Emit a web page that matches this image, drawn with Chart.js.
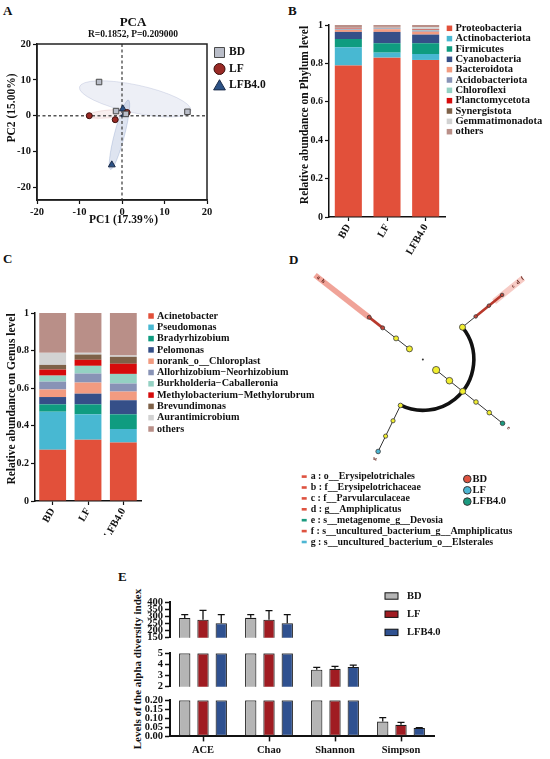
<!DOCTYPE html>
<html>
<head>
<meta charset="utf-8">
<title>Microbiome panels</title>
<script src="https://cdn.jsdelivr.net/npm/chart.js@4.4.1/dist/chart.umd.min.js"></script>
<style>
  html, body { margin: 0; padding: 0; background: #fff; }
  body { position: relative; width: 550px; height: 759px; overflow: hidden; font-family: 'Liberation Serif', serif; color: #111; }
  canvas { position: absolute; }
  .tag { position: absolute; font-weight: bold; font-size: 13px; line-height: 13px; }
  #eTitle { position: absolute; left: 37px; top: 662px; width: 200px; text-align: center; font-weight: bold; font-size: 11px; line-height: 14px; transform: rotate(-90deg); white-space: nowrap; }
</style>
</head>
<body>
<div class="tag" style="left:3px;top:4px">A</div>
<div class="tag" style="left:288px;top:4px">B</div>
<div class="tag" style="left:3px;top:252px">C</div>
<div class="tag" style="left:289px;top:253px">D</div>
<div class="tag" style="left:118px;top:570px">E</div>
<div id="eTitle">Levels of the alpha diversity index</div>

<canvas id="pca" width="270" height="235" style="left:0;top:0"></canvas>
<canvas id="phylum" width="280" height="260" style="left:270px;top:0"></canvas>
<canvas id="genus" width="330" height="300" style="left:0;top:235px"></canvas>
<canvas id="clado" width="280" height="320" style="left:270px;top:235px"></canvas>
<canvas id="alphaTop" width="330" height="60" style="left:120px;top:586px"></canvas>
<canvas id="alphaMid" width="330" height="50" style="left:120px;top:645px"></canvas>
<canvas id="alphaLow" width="330" height="67" style="left:120px;top:692px"></canvas>

<script>
// ---------------- data ----------------
const groups = ['BD', 'LF', 'LFB4.0'];

// A: PCA scores [PC1, PC2]
const pcaBD = [[-5.4, 9.4], [-1.4, 1.3], [15.4, 1.1], [0.9, 0.5]];
const pcaLF = [[-7.7, 0.0], [-1.6, -1.1], [1.2, 0.9]];
const pcaLFB = [[0.2, 1.9], [-2.4, -13.7], [0.6, 0.4]];
const pcaTicks = [-20, -10, 0, 10, 20];
// group ellipses: centre PC1, centre PC2, half axis PC1, half axis PC2, tilt (deg)
const pcaEllipses = [[3.1, 4.7, 13.4, 3.9, 12], [-3.1, 0.5, 5.2, 1.1, -5], [-0.6, -5.3, 1.2, 10, 14.5]];

// B: phylum relative abundance
const phylumNames = ['Proteobacteria', 'Actinobacteriota', 'Firmicutes', 'Cyanobacteria', 'Bacteroidota',
  'Acidobacteriota', 'Chloroflexi', 'Planctomycetota', 'Synergistota', 'Gemmatimonadota', 'others'];
const phylumBD = [0.789, 0.095, 0.043, 0.037, 0.010, 0.003, 0.002, 0.002, 0.001, 0.003, 0.015];
const phylumLF = [0.830, 0.026, 0.049, 0.059, 0.014, 0.004, 0.002, 0.001, 0.001, 0.004, 0.010];
const phylumLFB = [0.818, 0.031, 0.056, 0.045, 0.015, 0.006, 0.003, 0.002, 0.002, 0.010, 0.012];

// C: genus relative abundance
const genusNames = ['Acinetobacter', 'Pseudomonas', 'Bradyrhizobium', 'Pelomonas', 'norank_o__Chloroplast',
  'Allorhizobium\u2212Neorhizobium', 'Burkholderia\u2212Caballeronia', 'Methylobacterium\u2212Methylorubrum',
  'Brevundimonas', 'Aurantimicrobium', 'others'];
const genusBD = [0.272, 0.203, 0.039, 0.039, 0.040, 0.042, 0.032, 0.032, 0.025, 0.064, 0.212];
const genusLF = [0.326, 0.135, 0.053, 0.057, 0.059, 0.048, 0.041, 0.032, 0.028, 0.009, 0.212];
const genusLFB = [0.311, 0.072, 0.078, 0.075, 0.046, 0.043, 0.051, 0.054, 0.037, 0.007, 0.226];
const stackTicks = [0, 0.2, 0.4, 0.6, 0.8, 1];

// D: LEfSe cladogram, branches by direction (deg) and taxonomic level
const cladoAngles = [142, 39, -38.6, -116];
const cladoLevels = [[1, 2, 3, 4], [3, 4, 5, 6], [1, 2, 3, 4, 5, 6], [3, 4, 5, 6]];
const cladoClass = [['none', 'none', 'BD', 'BD'], ['none', 'BD', 'BD', 'BD'],
  ['none', 'none', 'none', 'none', 'none', 'LFB4.0'], ['none', 'none', 'none', 'LF']];
const cladoAbund = [[9, 6.2, 4, 4], [9, 3.2, 3.2, 3.2], [13, 11, 9, 5.3, 5.3, 5.3], [5.3, 4.4, 4.4, 5.3]];
const cladoLeaves = [['b', 'a'], ['c', 'd', 'f'], ['e'], ['g']];
const cladoArcLevel = 3;
const cladoArcSpan = [39, -116];
const cladoBiomarkers = ['a : o__Erysipelotrichales', 'b : f__Erysipelotrichaceae', 'c : f__Parvularculaceae',
  'd : g__Amphiplicatus', 'e : s__metagenome_g__Devosia', 'f : s__uncultured_bacterium_g__Amphiplicatus',
  'g : s__uncultured_bacterium_o__Elsterales'];
const cladoBiomarkerGroup = ['BD', 'BD', 'BD', 'BD', 'LFB4.0', 'BD', 'LF'];

// E: alpha diversity, mean and sd
const alphaIndex = ['ACE', 'Chao', 'Shannon', 'Simpson'];
const alphaBD = [288, 289, 3.53, 0.082];
const alphaLF = [276, 276, 3.61, 0.064];
const alphaLFB = [252, 252, 3.77, 0.047];
const alphaBDsd = [24, 23, 0.21, 0.022];
const alphaLFsd = [65, 64, 0.21, 0.014];
const alphaLFBsd = [60, 60, 0.16, 0.002];
const alphaTicksTop = [150, 200, 250, 300, 350, 400];
const alphaTicksMid = [2, 3, 4, 5];
const alphaTicksLow = [0, 0.05, 0.10, 0.15, 0.20];

// ---------------- styles ----------------
const FONT = "'Liberation Serif', 'Times New Roman', serif";
const pcaFill = ['#b9bdc8', '#992a25', '#2c5286'];
const pcaEdge = ['#4a4a4a', '#3b0f0c', '#1b2b48'];
const ellipseFill = ['rgba(190,198,222,0.28)', 'rgba(200,120,120,0.12)', 'rgba(90,120,180,0.20)'];
const ellipseLine = ['rgba(170,180,210,0.45)', 'rgba(200,130,130,0.25)', 'rgba(90,120,180,0.30)'];
const phylumColors = ['#e2503a', '#48b8d2', '#0f9c80', '#354f88', '#f29b80', '#8893b6', '#94d1c3',
  '#d60b0b', '#7e6148', '#d2d2d2', '#b98f88'];
const genusColors = ['#e2503a', '#48b8d2', '#0f9c80', '#354f88', '#f29b80', '#8893b6', '#94d1c3',
  '#d60b0b', '#7e6148', '#d2d2d2', '#b98f88'];
const cladoFill = { none: '#f1ee2f', BD: '#c4473a', LF: '#4db6d3', 'LFB4.0': '#1b9a7f' };
const markerColor = { BD: '#de5340', LF: '#4db6d3', 'LFB4.0': '#1b9a7f' };
const alphaColors = ['#b5b5b5', '#a01c22', '#2f5190'];

Chart.defaults.font.family = FONT;
Chart.defaults.font.weight = 'bold';
Chart.defaults.font.size = 10;
Chart.defaults.color = '#111';
Chart.defaults.animation = false;
Chart.defaults.plugins.legend.display = false;
Chart.defaults.plugins.tooltip.enabled = false;

const fixTicks = vals => axis => { axis.ticks = vals.map(v => ({ value: v })); };

function axisOpts(extra) {
  const o = {
    border: { display: true, color: '#111', width: 1.5 },
    grid: { display: true, drawOnChartArea: false, drawTicks: true, tickLength: 4, tickColor: '#111', tickWidth: 1.2, offset: false },
    ticks: { color: '#111', padding: 2, autoSkip: false, font: { size: 10, weight: 'bold', family: FONT } }
  };
  for (const k in extra) {
    if (o[k] && typeof extra[k] === 'object' && !Array.isArray(extra[k])) Object.assign(o[k], extra[k]);
    else o[k] = extra[k];
  }
  return o;
}

function label(ctx, str, x, y, size, opt) {
  opt = opt || {};
  ctx.save();
  ctx.font = 'bold ' + size + 'px ' + FONT;
  ctx.fillStyle = opt.color || '#111';
  ctx.textAlign = opt.align || 'left';
  ctx.textBaseline = 'middle';
  ctx.translate(x, y);
  if (opt.rotate) ctx.rotate(opt.rotate);
  ctx.fillText(str, 0, 0);
  ctx.restore();
}

function marker(ctx, shape, x, y, r, fill, edge) {
  ctx.save();
  ctx.fillStyle = fill; ctx.strokeStyle = edge; ctx.lineWidth = 1;
  ctx.beginPath();
  if (shape === 'rect') ctx.rect(x - r, y - r, 2 * r, 2 * r);
  else if (shape === 'circle') ctx.arc(x, y, r, 0, Math.PI * 2);
  else { ctx.moveTo(x, y - r); ctx.lineTo(x + r * 0.866, y + r * 0.5); ctx.lineTo(x - r * 0.866, y + r * 0.5); ctx.closePath(); }
  ctx.fill(); ctx.stroke();
  ctx.restore();
}

// ---------------- A: PCA ----------------
const pcaDecor = {
  id: 'pcaDecor',
  beforeDatasetsDraw(chart) {
    const { ctx, chartArea: a, scales: { x, y } } = chart;
    const ux = x.getPixelForValue(1) - x.getPixelForValue(0);
    const uy = y.getPixelForValue(0) - y.getPixelForValue(1);
    ctx.save();
    pcaEllipses.forEach((e, k) => {
      ctx.beginPath();
      ctx.ellipse(x.getPixelForValue(e[0]), y.getPixelForValue(e[1]), e[2] * ux, e[3] * uy, e[4] * Math.PI / 180, 0, Math.PI * 2);
      ctx.fillStyle = ellipseFill[k]; ctx.fill();
      ctx.strokeStyle = ellipseLine[k]; ctx.lineWidth = 0.8; ctx.stroke();
    });
    const x0 = x.getPixelForValue(0), y0 = y.getPixelForValue(0);
    ctx.setLineDash([3, 2.5]);
    ctx.strokeStyle = '#555'; ctx.lineWidth = 1.4;
    ctx.beginPath();
    ctx.moveTo(x0, a.top); ctx.lineTo(x0, a.bottom);
    ctx.moveTo(a.left, y0); ctx.lineTo(a.right, y0);
    ctx.stroke();
    ctx.restore();
  },
  afterDraw(chart) {
    const { ctx, chartArea: a } = chart;
    ctx.save();
    ctx.strokeStyle = '#222'; ctx.lineWidth = 1.5;
    ctx.strokeRect(a.left, a.top, a.right - a.left, a.bottom - a.top);
    ctx.restore();
    label(ctx, 'PCA', 133, 23, 13, { align: 'center' });
    label(ctx, 'R=0.1852, P=0.209000', 133, 34.5, 9.5, { align: 'center' });
    label(ctx, 'PC1 (17.39%)', 123.5, 220, 11.5, { align: 'center' });
    label(ctx, 'PC2 (15.00%)', 12, 108, 11.5, { align: 'center', rotate: -Math.PI / 2 });
    const shapes = ['rect', 'circle', 'triangle'];
    const rs = [5, 5.5, 6.8];
    groups.forEach((g, k) => {
      const yy = 52.5 + k * 16.5;
      marker(ctx, shapes[k], 219.5, yy + (k === 2 ? 1 : 0), rs[k], pcaFill[k], pcaEdge[k]);
      label(ctx, g, 229, yy, 11.5);
    });
  }
};

const pcaSeries = [pcaBD, pcaLF, pcaLFB];
const pcaStyle = ['rect', 'circle', 'triangle'];
const pcaRadius = [3.9, 3, 4];
new Chart(document.getElementById('pca'), {
  type: 'scatter',
  data: {
    datasets: pcaSeries.map((s, k) => ({
      label: groups[k],
      data: s.map(p => ({ x: p[0], y: p[1] })),
      pointStyle: pcaStyle[k], pointRadius: pcaRadius[k],
      pointBackgroundColor: pcaFill[k], pointBorderColor: pcaEdge[k], pointBorderWidth: 1
    }))
  },
  options: {
    responsive: false,
    layout: { padding: { left: 0, top: 44, right: 63, bottom: 0 } },
    scales: {
      x: axisOpts({ type: 'linear', min: -20, max: 20, afterBuildTicks: fixTicks(pcaTicks),
        ticks: { font: { size: 10.5, weight: 'bold', family: FONT } },
        afterFit: s => { s.height = 35; } }),
      y: axisOpts({ type: 'linear', min: -23.5, max: 20, afterBuildTicks: fixTicks(pcaTicks),
        ticks: { font: { size: 10.5, weight: 'bold', family: FONT } },
        afterFit: s => { s.width = 37; } })
    }
  },
  plugins: [pcaDecor]
});

// ---------------- B / C: stacked composition ----------------
function stackedChart(id, names, colors, series, cfg) {
  const legend = {
    id: id + 'Legend',
    afterDraw(chart) {
      const ctx = chart.ctx;
      names.forEach((n, i) => {
        const yy = cfg.legY + i * cfg.legStep;
        ctx.fillStyle = colors[i];
        ctx.fillRect(cfg.legX, yy - 2.75, 5.5, 5.5);
        label(ctx, n, cfg.legX + 8.7, yy, cfg.legFont);
      });
      label(ctx, cfg.yTitle, cfg.yTitleX, cfg.yTitleY, 11.5, { align: 'center', rotate: -Math.PI / 2 });
    }
  };
  return new Chart(document.getElementById(id), {
    type: 'bar',
    data: {
      labels: groups,
      datasets: names.map((n, i) => ({
        label: n, data: series.map(s => s[i]), backgroundColor: colors[i], borderWidth: 0,
        barPercentage: cfg.barPct, categoryPercentage: 1
      }))
    },
    options: {
      responsive: false,
      layout: { padding: cfg.padding },
      scales: {
        x: axisOpts({ stacked: true, ticks: { minRotation: 60, maxRotation: 60, padding: 1,
          font: { size: 10.5, weight: 'bold', family: FONT } }, afterFit: s => { s.height = cfg.xh; } }),
        y: axisOpts({ stacked: true, min: 0, max: 1, afterBuildTicks: fixTicks(stackTicks),
          ticks: { callback: v => String(+v.toFixed(1)) },
          afterFit: s => { s.width = cfg.yw; } })
      }
    },
    plugins: [legend]
  });
}

stackedChart('phylum', phylumNames, phylumColors, [phylumBD, phylumLF, phylumLFB], {
  padding: { left: 0, top: 25, right: 105, bottom: 0 }, xh: 43, yw: 59, barPct: 0.70,
  legX: 176.7, legY: 28.3, legStep: 10.34, legFont: 10.5,
  yTitle: 'Relative abundance on Phylum level', yTitleX: 35, yTitleY: 115
});

stackedChart('genus', genusNames, genusColors, [genusBD, genusLF, genusLFB], {
  padding: { left: 0, top: 78, right: 189, bottom: 0 }, xh: 34, yw: 35, barPct: 0.76,
  legX: 148.3, legY: 81, legStep: 11.3, legFont: 10.2,
  yTitle: 'Relative abundance on Genus level', yTitleX: 12, yTitleY: 164
});

// ---------------- D: cladogram ----------------
const CL_PX = 17.6;           // pixels per taxonomic level
const CL_CX = 153.3, CL_CY = 123.3;
const cladoCanvas = document.getElementById('clado');
const isBD = (cls, i) => cls[i] === 'BD';

const cladoDecor = {
  id: 'cladoDecor',
  beforeDatasetsDraw(chart) {
    const { ctx, scales: { x, y } } = chart;
    const cx = x.getPixelForValue(0), cy = y.getPixelForValue(0);
    const u = x.getPixelForValue(1) - cx;
    ctx.save();
    // highlighted clades
    const shades = [[0, 4, 8.05, 2.8, 'rgba(234,128,112,0.72)'], [1, 5.4, 7.6, 3, 'rgba(240,160,150,0.55)']];
    shades.forEach(s => {
      const t = cladoAngles[s[0]] * Math.PI / 180;
      const dx = Math.cos(t), dy = -Math.sin(t), nx = -dy, ny = dx;
      ctx.beginPath();
      ctx.moveTo(cx + dx * s[1] * u + nx * s[3], cy + dy * s[1] * u + ny * s[3]);
      ctx.lineTo(cx + dx * s[2] * u + nx * s[3], cy + dy * s[2] * u + ny * s[3]);
      ctx.lineTo(cx + dx * s[2] * u - nx * s[3], cy + dy * s[2] * u - ny * s[3]);
      ctx.lineTo(cx + dx * s[1] * u - nx * s[3], cy + dy * s[1] * u - ny * s[3]);
      ctx.closePath();
      ctx.fillStyle = s[4]; ctx.fill();
    });
    // thick arc joining sibling clades
    ctx.beginPath();
    ctx.arc(cx, cy, cladoArcLevel * u, -cladoArcSpan[0] * Math.PI / 180, -cladoArcSpan[1] * Math.PI / 180, false);
    ctx.strokeStyle = '#111'; ctx.lineWidth = 3.6; ctx.stroke();
    ctx.restore();
  },
  afterDatasetsDraw(chart) {
    const { ctx, scales: { x, y } } = chart;
    const cx = x.getPixelForValue(0), cy = y.getPixelForValue(0);
    const u = x.getPixelForValue(1) - cx;
    const start = [7.45, 6.85, 6.45, 6.5];
    cladoLeaves.forEach((arr, b) => {
      const t = cladoAngles[b] * Math.PI / 180;
      arr.forEach((ch, j) => {
        const r = (start[b] + j * 0.35) * u;
        label(ctx, ch, cx + Math.cos(t) * r, cy - Math.sin(t) * r, 5.5,
          { align: 'center', color: '#5a1a12', rotate: -t + (Math.cos(t) < 0 ? Math.PI : 0) });
      });
    });
  },
  afterDraw(chart) {
    const ctx = chart.ctx;
    cladoBiomarkers.forEach((t, i) => {
      const yy = 241.6 + i * 10.9;
      ctx.fillStyle = markerColor[cladoBiomarkerGroup[i]];
      ctx.fillRect(31.7, yy - 1.3, 5, 2.6);
      label(ctx, t, 40.7, yy, 9.9);
    });
    groups.forEach((g, k) => {
      const yy = 244 + k * 11.3;
      marker(ctx, 'circle', 197.3, yy, 3.8, markerColor[g], '#333');
      label(ctx, g, 202.5, yy, 10.5);
    });
  }
};

const cladoSets = cladoAngles.map((ang, b) => {
  const t = ang * Math.PI / 180;
  const cls = cladoClass[b];
  return {
    data: cladoLevels[b].map(l => ({ x: l * Math.cos(t), y: l * Math.sin(t) })),
    showLine: true, borderColor: '#333', borderWidth: 1,
    segment: {
      borderColor: c => (isBD(cls, c.p0DataIndex) && isBD(cls, c.p1DataIndex) ? '#b8392c' : '#333'),
      borderWidth: c => (isBD(cls, c.p0DataIndex) && isBD(cls, c.p1DataIndex) ? 2.6 : 1)
    },
    pointRadius: cladoAbund[b].map(a => Math.sqrt(a)),
    pointBackgroundColor: cls.map(c => cladoFill[c]),
    pointBorderColor: '#3a3a3a', pointBorderWidth: 0.8
  };
});
cladoSets.push({ data: [{ x: 0, y: 0 }], pointRadius: 1, pointBackgroundColor: '#333', pointBorderWidth: 0 });

new Chart(cladoCanvas, {
  type: 'scatter',
  data: { datasets: cladoSets },
  options: {
    responsive: false,
    layout: { padding: 0 },
    scales: {
      x: { type: 'linear', display: false, min: -CL_CX / CL_PX, max: (cladoCanvas.width - CL_CX) / CL_PX },
      y: { type: 'linear', display: false, min: -(cladoCanvas.height - CL_CY) / CL_PX, max: CL_CY / CL_PX }
    }
  },
  plugins: [cladoDecor]
});

// ---------------- E: alpha diversity (broken axis) ----------------
const alphaMeans = [alphaBD, alphaLF, alphaLFB];
const alphaSds = [alphaBDsd, alphaLFsd, alphaLFBsd];

function alphaSegment(id, ticks, cfg) {
  const min = ticks[0], max = ticks[ticks.length - 1];
  const clip = v => (v < min ? null : Math.min(v, max));
  const errors = {
    id: id + 'Err',
    afterDatasetsDraw(chart) {
      const { ctx, scales: { y } } = chart;
      ctx.save();
      ctx.strokeStyle = '#111'; ctx.lineWidth = 1.3;
      alphaMeans.forEach((m, d) => {
        const meta = chart.getDatasetMeta(d);
        m.forEach((v, i) => {
          if (v < min || v > max) return;
          const bx = meta.data[i].x;
          const y0 = y.getPixelForValue(v), y1 = y.getPixelForValue(Math.min(v + alphaSds[d][i], max));
          ctx.beginPath();
          ctx.moveTo(bx, y0); ctx.lineTo(bx, y1);
          ctx.moveTo(bx - 3.5, y1); ctx.lineTo(bx + 3.5, y1);
          ctx.stroke();
        });
      });
      ctx.restore();
      if (cfg.legend) {
        groups.forEach((g, k) => {
          const yy = 10 + k * 18.2;
          ctx.fillStyle = alphaColors[k];
          ctx.fillRect(265, yy - 3.2, 13, 6.4);
          ctx.strokeStyle = '#111'; ctx.lineWidth = 1;
          ctx.strokeRect(265, yy - 3.2, 13, 6.4);
          label(ctx, g, 287, yy, 10.5);
        });
      }
    }
  };
  return new Chart(document.getElementById(id), {
    type: 'bar',
    data: {
      labels: alphaIndex,
      datasets: groups.map((g, k) => ({
        label: g, data: alphaMeans[k].map(clip), backgroundColor: alphaColors[k],
        borderColor: '#1a1a1a', borderWidth: 1.1, borderSkipped: false,
        barPercentage: 0.62, categoryPercentage: 0.83
      }))
    },
    options: {
      responsive: false,
      layout: { padding: cfg.padding },
      scales: {
        x: cfg.showX
          ? axisOpts({ border: { display: true, color: '#111', width: 2 },
              grid: { tickLength: 5, tickWidth: 1.5 },
              ticks: { padding: 3, font: { size: 10.5, weight: 'bold', family: FONT } },
              afterFit: s => { s.height = cfg.xh; } })
          : { display: false },
        y: axisOpts({ min, max, afterBuildTicks: fixTicks(ticks),
          border: { display: true, color: '#111', width: 2 },
          grid: { tickLength: 5, tickWidth: 1.5 },
          ticks: { padding: 2, callback: cfg.fmt, font: { size: 10.5, weight: 'bold', family: FONT } },
          afterFit: s => { s.width = 50; } })
      }
    },
    plugins: [errors]
  });
}

alphaSegment('alphaTop', alphaTicksTop, { padding: { left: 0, top: 16, right: 16, bottom: 6 }, fmt: v => String(v), legend: true });
alphaSegment('alphaMid', alphaTicksMid, { padding: { left: 0, top: 6, right: 16, bottom: 6 }, fmt: v => String(v) });
alphaSegment('alphaLow', alphaTicksLow, { padding: { left: 0, top: 6, right: 16, bottom: 0 }, fmt: v => v.toFixed(2), showX: true, xh: 22.6 });
</script>
</body>
</html>
